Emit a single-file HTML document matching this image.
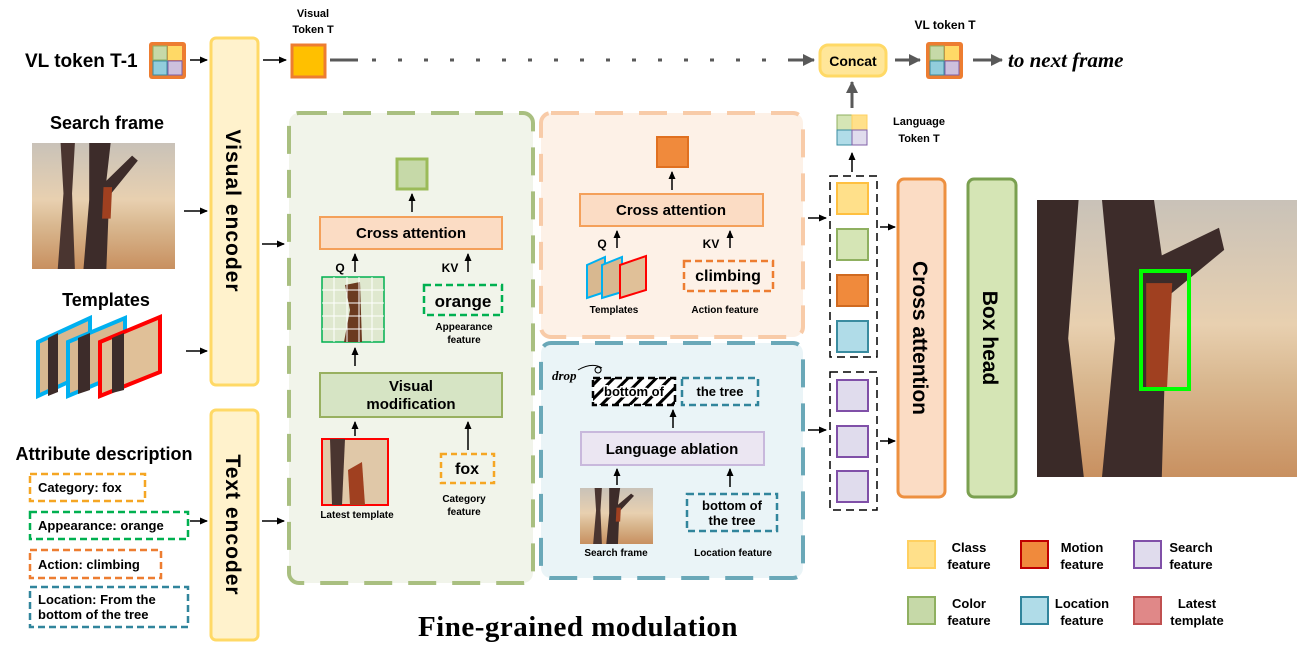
<!DOCTYPE html>
<html><head><meta charset="utf-8"><style>
html,body{margin:0;padding:0;background:#fff;}
svg{display:block;font-family:"Liberation Sans",sans-serif;}
.b{font-weight:bold;}
</style></head><body>
<svg width="1297" height="660" viewBox="0 0 1297 660" xmlns="http://www.w3.org/2000/svg">
<defs>
<marker id="ah" markerWidth="8" markerHeight="8" refX="7" refY="4" orient="auto" markerUnits="userSpaceOnUse"><path d="M0,0.5 L8,4 L0,7.5 z" fill="#000"/></marker>
<marker id="ag" markerWidth="12" markerHeight="12" refX="11" refY="6" orient="auto" markerUnits="userSpaceOnUse"><path d="M0,0 L12,6 L0,12 z" fill="#595959"/></marker>
<linearGradient id="sky" x1="0" y1="0" x2="0" y2="1"><stop offset="0" stop-color="#c9c2b8"/><stop offset="0.45" stop-color="#e8d0b0"/><stop offset="0.65" stop-color="#d9b890"/><stop offset="1" stop-color="#c89060"/></linearGradient>
<symbol id="scene" viewBox="0 0 100 100" preserveAspectRatio="none">
<rect width="100" height="100" fill="url(#sky)"/>
<path d="M20,0 L30,0 L28,40 L30,100 L18,100 L22,40 Z" fill="#4a3530"/>
<path d="M40,0 L55,0 L52,30 L70,10 L74,14 L54,42 L52,100 L36,100 L40,45 Z" fill="#3d2c2a"/>
<path d="M50,35 L56,35 L55,60 L49,60 Z" fill="#a04020"/>
</symbol>
<symbol id="bigscene" viewBox="0 0 100 100" preserveAspectRatio="none">
<rect width="100" height="100" fill="url(#sky)"/>
<path d="M0,0 L16,0 L12,50 L18,100 L0,100 Z" fill="#3a2a28"/>
<path d="M25,0 L45,0 L48,20 L70,10 L72,18 L50,35 L48,100 L25,100 L30,50 Z" fill="#3d2c2a"/>
<path d="M42,30 L52,30 L50,68 L42,68 Z" fill="#a04020"/>
</symbol>
<pattern id="hatch" width="10" height="10" patternUnits="userSpaceOnUse" patternTransform="rotate(45)"><rect width="10" height="10" fill="#fff"/><rect width="3" height="10" fill="#000"/></pattern>
</defs>

<text x="25" y="67" font-size="19" class="b">VL token T-1</text>
<g transform="translate(149,42)"><rect x="0" y="0" width="37" height="37" rx="3" fill="#ed7d31"/><rect x="4" y="4" width="14" height="14" fill="#c6d9a8" stroke="#8fb060"/><rect x="19" y="4" width="14" height="14" fill="#ffd966"/><rect x="4" y="19" width="14" height="14" fill="#92cddc" stroke="#3a8ca0"/><rect x="19" y="19" width="14" height="14" fill="#cdc0dd" stroke="#8060a8"/></g>
<line x1="190" y1="60" x2="207" y2="60" stroke="#000" stroke-width="1.5" marker-end="url(#ah)"/>

<rect x="211" y="38" width="47" height="347" rx="5" fill="#fff2cc" stroke="#ffd966" stroke-width="3"/>
<text transform="translate(226,211) rotate(90)" text-anchor="middle" font-size="21" letter-spacing="1" class="b">Visual  encoder</text>
<rect x="211" y="410" width="47" height="230" rx="5" fill="#fff2cc" stroke="#ffd966" stroke-width="3"/>
<text transform="translate(226,525) rotate(90)" text-anchor="middle" font-size="21" letter-spacing="1" class="b">Text  encoder</text>

<line x1="263" y1="60" x2="286" y2="60" stroke="#000" stroke-width="1.5" marker-end="url(#ah)"/>
<text x="313" y="17" text-anchor="middle" font-size="11" class="b">Visual</text>
<text x="313" y="33" text-anchor="middle" font-size="11" class="b">Token T</text>
<rect x="292" y="45" width="33" height="32" fill="#ffc000" stroke="#ed7d31" stroke-width="3"/>
<line x1="330" y1="60" x2="358" y2="60" stroke="#595959" stroke-width="3"/>
<line x1="372" y1="60" x2="800" y2="60" stroke="#595959" stroke-width="3" stroke-dasharray="4,22"/>
<line x1="790" y1="60" x2="814" y2="60" stroke="#595959" stroke-width="3" marker-end="url(#ag)"/>
<rect x="820" y="45" width="66" height="31" rx="8" fill="#ffe699" stroke="#ffd966" stroke-width="3"/>
<text x="853" y="66" text-anchor="middle" font-size="14" class="b">Concat</text>
<line x1="895" y1="60" x2="920" y2="60" stroke="#595959" stroke-width="3" marker-end="url(#ag)"/>
<text x="945" y="29" text-anchor="middle" font-size="12" class="b">VL token T</text>
<g transform="translate(926,42)"><rect x="0" y="0" width="37" height="37" rx="3" fill="#ed7d31"/><rect x="4" y="4" width="14" height="14" fill="#c6d9a8" stroke="#8fb060"/><rect x="19" y="4" width="14" height="14" fill="#ffd966"/><rect x="4" y="19" width="14" height="14" fill="#92cddc" stroke="#3a8ca0"/><rect x="19" y="19" width="14" height="14" fill="#cdc0dd" stroke="#8060a8"/></g>
<line x1="973" y1="60" x2="1002" y2="60" stroke="#595959" stroke-width="3" marker-end="url(#ag)"/>
<text x="1008" y="67" font-family="Liberation Serif,serif" font-style="italic" font-weight="bold" font-size="21">to next frame</text>

<text x="107" y="129" text-anchor="middle" font-size="18" class="b">Search frame</text>
<use href="#scene" x="32" y="143" width="143" height="126"/>
<line x1="184" y1="211" x2="207" y2="211" stroke="#000" stroke-width="1.5" marker-end="url(#ah)"/>
<text x="106" y="306" text-anchor="middle" font-size="18" class="b">Templates</text>
<g>
<path d="M38,342 L90,318 L90,372 L38,396 Z" fill="#d8b890" stroke="#00b0f0" stroke-width="4"/>
<path d="M48,338 L58,333 L58,392 L48,396 Z" fill="#3d2c2a"/>
<path d="M68,342 L125,318 L125,372 L68,396 Z" fill="#d8b890" stroke="#00b0f0" stroke-width="4"/>
<path d="M78,338 L90,333 L90,390 L78,394 Z" fill="#3d2c2a"/>
<path d="M100,342 L160,317 L160,372 L100,396 Z" fill="#e0c098" stroke="#ff0000" stroke-width="4"/>
<path d="M112,338 L124,333 L124,390 L112,393 Z" fill="#3d2c2a"/>
</g>
<line x1="186" y1="351" x2="207" y2="351" stroke="#000" stroke-width="1.5" marker-end="url(#ah)"/>

<text x="104" y="460" text-anchor="middle" font-size="18" class="b">Attribute description</text>
<g fill="none" stroke-width="2.5" stroke-dasharray="7,4">
<rect x="30" y="474" width="115" height="27" stroke="#f5a623"/>
<rect x="30" y="512" width="158" height="27" stroke="#00b050"/>
<rect x="30" y="550" width="131" height="28" stroke="#ed7d31"/>
<rect x="30" y="587" width="158" height="40" stroke="#31859c"/>
</g>
<g font-size="13" class="b">
<text x="38" y="492">Category: fox</text>
<text x="38" y="530">Appearance: orange</text>
<text x="38" y="569">Action: climbing</text>
<text x="38" y="604">Location: From the</text>
<text x="38" y="619">bottom of the tree</text>
</g>
<line x1="190" y1="521" x2="207" y2="521" stroke="#000" stroke-width="1.5" marker-end="url(#ah)"/>
<line x1="262" y1="244" x2="284" y2="244" stroke="#000" stroke-width="1.5" marker-end="url(#ah)"/>
<line x1="262" y1="521" x2="284" y2="521" stroke="#000" stroke-width="1.5" marker-end="url(#ah)"/>

<rect x="289" y="113" width="244" height="470" rx="10" fill="#f1f4ea" stroke="#a9bf80" stroke-width="4" stroke-dasharray="28,16"/>
<rect x="397" y="159" width="30" height="30" fill="#c6d9a8" stroke="#9bbb59" stroke-width="3"/>
<line x1="412" y1="212" x2="412" y2="194" stroke="#000" stroke-width="1.5" marker-end="url(#ah)"/>
<rect x="320" y="217" width="182" height="32" fill="#fbdcc4" stroke="#f4a05a" stroke-width="2"/>
<text x="411" y="238" text-anchor="middle" font-size="15" class="b">Cross attention</text>
<text x="340" y="272" text-anchor="middle" font-size="12" class="b">Q</text>
<line x1="355" y1="272" x2="355" y2="254" stroke="#000" stroke-width="1.5" marker-end="url(#ah)"/>
<text x="450" y="272" text-anchor="middle" font-size="12" class="b">KV</text>
<line x1="468" y1="272" x2="468" y2="254" stroke="#000" stroke-width="1.5" marker-end="url(#ah)"/>
<rect x="322" y="277" width="62" height="65" fill="#dfe8cf" stroke="#00b050" stroke-width="1.5"/>
<path d="M345,285 L360,282 L362,342 L344,342 L350,310 Z" fill="#6b3a20"/>
<g stroke="#fff" stroke-width="1"><line x1="334" y1="277" x2="334" y2="342"/><line x1="347" y1="277" x2="347" y2="342"/><line x1="359" y1="277" x2="359" y2="342"/><line x1="372" y1="277" x2="372" y2="342"/><line x1="322" y1="290" x2="384" y2="290"/><line x1="322" y1="303" x2="384" y2="303"/><line x1="322" y1="316" x2="384" y2="316"/><line x1="322" y1="329" x2="384" y2="329"/></g>
<rect x="424" y="285" width="78" height="30" fill="none" stroke="#00b050" stroke-width="2.5" stroke-dasharray="7,4"/>
<text x="463" y="307" text-anchor="middle" font-size="17" class="b">orange</text>
<text x="464" y="330" text-anchor="middle" font-size="10" class="b">Appearance</text>
<text x="464" y="343" text-anchor="middle" font-size="10" class="b">feature</text>
<line x1="355" y1="366" x2="355" y2="348" stroke="#000" stroke-width="1.5" marker-end="url(#ah)"/>
<rect x="320" y="373" width="182" height="44" fill="#d6e4c4" stroke="#98b060" stroke-width="2"/>
<text x="411" y="391" text-anchor="middle" font-size="15" class="b">Visual</text>
<text x="411" y="409" text-anchor="middle" font-size="15" class="b">modification</text>
<line x1="355" y1="436" x2="355" y2="422" stroke="#000" stroke-width="1.5" marker-end="url(#ah)"/>
<line x1="468" y1="450" x2="468" y2="422" stroke="#000" stroke-width="1.5" marker-end="url(#ah)"/>
<rect x="322" y="439" width="66" height="66" fill="#e0c8a8" stroke="#ff0000" stroke-width="2"/>
<path d="M330,439 L345,439 L342,505 L332,505 Z" fill="#4a3530"/><path d="M348,470 L362,462 L365,505 L350,505 Z" fill="#a04020"/>
<text x="357" y="518" text-anchor="middle" font-size="10" class="b">Latest template</text>
<rect x="441" y="454" width="53" height="29" fill="none" stroke="#f5a623" stroke-width="2.5" stroke-dasharray="6,4"/>
<text x="467" y="474" text-anchor="middle" font-size="16" class="b">fox</text>
<text x="464" y="502" text-anchor="middle" font-size="10" class="b">Category</text>
<text x="464" y="515" text-anchor="middle" font-size="10" class="b">feature</text>

<text x="578" y="636" text-anchor="middle" font-family="Liberation Serif,serif" font-weight="bold" font-size="29" letter-spacing="0.5">Fine-grained  modulation</text>

<rect x="541" y="113" width="262" height="224" rx="10" fill="#fdf1e7" stroke="#f8cba8" stroke-width="4" stroke-dasharray="28,16"/>
<rect x="657" y="137" width="31" height="30" fill="#f08a3c" stroke="#e07020" stroke-width="2"/>
<line x1="672" y1="190" x2="672" y2="172" stroke="#000" stroke-width="1.5" marker-end="url(#ah)"/>
<rect x="580" y="194" width="183" height="32" fill="#fbdcc4" stroke="#f4a05a" stroke-width="2"/>
<text x="671" y="215" text-anchor="middle" font-size="15" class="b">Cross attention</text>
<text x="602" y="248" text-anchor="middle" font-size="12" class="b">Q</text>
<line x1="617" y1="248" x2="617" y2="231" stroke="#000" stroke-width="1.5" marker-end="url(#ah)"/>
<text x="711" y="248" text-anchor="middle" font-size="12" class="b">KV</text>
<line x1="730" y1="248" x2="730" y2="231" stroke="#000" stroke-width="1.5" marker-end="url(#ah)"/>
<path d="M587,265 L605,257 L605,292 L587,298 Z" fill="#d8b890" stroke="#00b0f0" stroke-width="2"/>
<path d="M602,265 L622,257 L622,292 L602,298 Z" fill="#d8b890" stroke="#00b0f0" stroke-width="2"/>
<path d="M620,265 L646,256 L646,290 L620,298 Z" fill="#e0c098" stroke="#ff0000" stroke-width="2"/>
<text x="614" y="313" text-anchor="middle" font-size="10" class="b">Templates</text>
<rect x="684" y="261" width="89" height="30" fill="none" stroke="#ed7d31" stroke-width="2.5" stroke-dasharray="7,4"/>
<text x="728" y="281" text-anchor="middle" font-size="16" class="b">climbing</text>
<text x="725" y="313" text-anchor="middle" font-size="10" class="b">Action feature</text>

<rect x="541" y="343" width="262" height="235" rx="10" fill="#eaf4f7" stroke="#6aa8b8" stroke-width="4" stroke-dasharray="28,16"/>
<text x="552" y="380" font-family="Liberation Serif,serif" font-style="italic" font-weight="bold" font-size="13">drop</text>
<path d="M578,370 Q592,362 602,368 M598,367 a3,3 0 1 0 0.1,0" fill="none" stroke="#000" stroke-width="1"/>
<rect x="593" y="378" width="82" height="27" fill="url(#hatch)" stroke="#000" stroke-width="2.5" stroke-dasharray="7,4"/>
<text x="634" y="396" text-anchor="middle" font-size="13" class="b" stroke="#fff" stroke-width="3" paint-order="stroke">bottom of</text>
<rect x="682" y="378" width="76" height="27" fill="none" stroke="#31859c" stroke-width="2.5" stroke-dasharray="7,4"/>
<text x="720" y="396" text-anchor="middle" font-size="13" class="b">the tree</text>
<line x1="673" y1="428" x2="673" y2="410" stroke="#000" stroke-width="1.5" marker-end="url(#ah)"/>
<rect x="581" y="432" width="183" height="33" fill="#ebe6f2" stroke="#c8b8dc" stroke-width="2"/>
<text x="672" y="454" text-anchor="middle" font-size="15" class="b">Language ablation</text>
<line x1="617" y1="485" x2="617" y2="469" stroke="#000" stroke-width="1.5" marker-end="url(#ah)"/>
<line x1="730" y1="487" x2="730" y2="469" stroke="#000" stroke-width="1.5" marker-end="url(#ah)"/>
<use href="#scene" x="580" y="488" width="73" height="56"/>
<text x="616" y="556" text-anchor="middle" font-size="10" class="b">Search frame</text>
<rect x="687" y="494" width="90" height="37" fill="none" stroke="#31859c" stroke-width="2.5" stroke-dasharray="7,4"/>
<text x="732" y="510" text-anchor="middle" font-size="13" class="b">bottom of</text>
<text x="732" y="525" text-anchor="middle" font-size="13" class="b">the tree</text>
<text x="733" y="556" text-anchor="middle" font-size="10" class="b">Location feature</text>

<line x1="808" y1="218" x2="826" y2="218" stroke="#000" stroke-width="1.5" marker-end="url(#ah)"/>
<line x1="808" y1="430" x2="826" y2="430" stroke="#000" stroke-width="1.5" marker-end="url(#ah)"/>
<rect x="830" y="176" width="47" height="181" fill="none" stroke="#000" stroke-width="1.5" stroke-dasharray="8,5"/>
<rect x="837" y="183" width="31" height="31" fill="#ffe08a" stroke="#ffc040" stroke-width="2"/>
<rect x="837" y="229" width="31" height="31" fill="#d5e5b5" stroke="#8fb060" stroke-width="2"/>
<rect x="837" y="275" width="31" height="31" fill="#f08a3c" stroke="#d06a20" stroke-width="2"/>
<rect x="837" y="321" width="31" height="31" fill="#b0dce8" stroke="#3a8ca0" stroke-width="2"/>
<rect x="830" y="372" width="47" height="138" fill="none" stroke="#000" stroke-width="1.5" stroke-dasharray="8,5"/>
<rect x="837" y="380" width="31" height="31" fill="#e0dced" stroke="#8050a8" stroke-width="2"/>
<rect x="837" y="426" width="31" height="31" fill="#e0dced" stroke="#8050a8" stroke-width="2"/>
<rect x="837" y="471" width="31" height="31" fill="#e0dced" stroke="#8050a8" stroke-width="2"/>
<line x1="852" y1="172" x2="852" y2="153" stroke="#000" stroke-width="1.5" marker-end="url(#ah)"/>
<g transform="translate(837,115)"><rect x="0" y="0" width="15" height="15" fill="#d5e5b5" stroke="#8fb060"/><rect x="15" y="0" width="15" height="15" fill="#ffe08a" stroke="#ffd060"/><rect x="0" y="15" width="15" height="15" fill="#b0dce8" stroke="#3a8ca0"/><rect x="15" y="15" width="15" height="15" fill="#e0dced" stroke="#8060a8"/></g>
<line x1="852" y1="108" x2="852" y2="82" stroke="#595959" stroke-width="3" marker-end="url(#ag)"/>
<text x="919" y="125" text-anchor="middle" font-size="11" class="b">Language</text>
<text x="919" y="142" text-anchor="middle" font-size="11" class="b">Token T</text>
<line x1="880" y1="227" x2="895" y2="227" stroke="#000" stroke-width="1.5" marker-end="url(#ah)"/>
<line x1="880" y1="441" x2="895" y2="441" stroke="#000" stroke-width="1.5" marker-end="url(#ah)"/>

<rect x="898" y="179" width="47" height="318" rx="6" fill="#fbdcc4" stroke="#ed9040" stroke-width="3"/>
<text transform="translate(913,338) rotate(90)" text-anchor="middle" font-size="21" class="b">Cross attention</text>
<rect x="968" y="179" width="48" height="318" rx="6" fill="#d5e5b5" stroke="#7aa050" stroke-width="3"/>
<text transform="translate(983,338) rotate(90)" text-anchor="middle" font-size="21" class="b">Box head</text>

<use href="#bigscene" x="1037" y="200" width="260" height="277"/>
<rect x="1141" y="271" width="48" height="118" fill="none" stroke="#00ff00" stroke-width="4"/>

<g stroke-width="2">
<rect x="908" y="541" width="27" height="27" fill="#ffe08a" stroke="#ffd060"/>
<rect x="1021" y="541" width="27" height="27" fill="#f08a3c" stroke="#c00000"/>
<rect x="1134" y="541" width="27" height="27" fill="#e0dced" stroke="#8050a8"/>
<rect x="908" y="597" width="27" height="27" fill="#c6d9a8" stroke="#8fb060"/>
<rect x="1021" y="597" width="27" height="27" fill="#b0dce8" stroke="#31859c"/>
<rect x="1134" y="597" width="27" height="27" fill="#e08888" stroke="#c05050"/>
</g>
<g font-size="13" class="b" text-anchor="middle">
<text x="969" y="552">Class</text><text x="969" y="569">feature</text>
<text x="1082" y="552">Motion</text><text x="1082" y="569">feature</text>
<text x="1191" y="552">Search</text><text x="1191" y="569">feature</text>
<text x="969" y="608">Color</text><text x="969" y="625">feature</text>
<text x="1082" y="608">Location</text><text x="1082" y="625">feature</text>
<text x="1197" y="608">Latest</text><text x="1197" y="625">template</text>
</g>
</svg>
</body></html>
